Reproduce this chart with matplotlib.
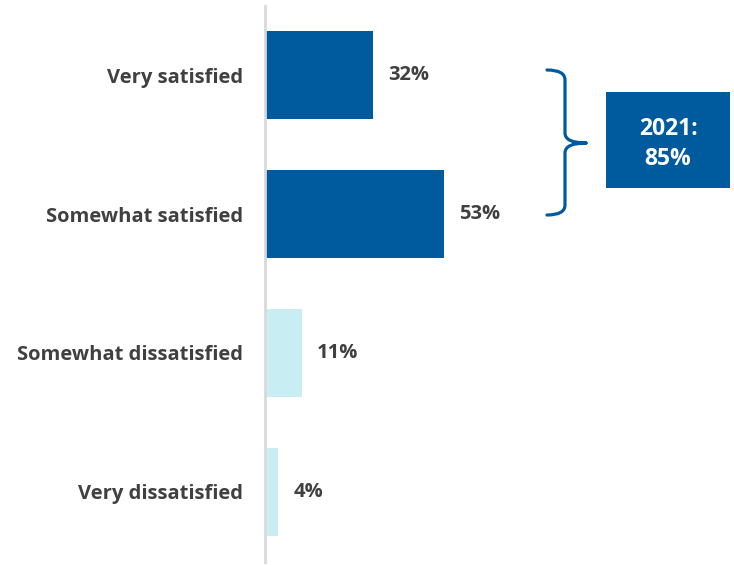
import matplotlib.pyplot as plt
from matplotlib.path import Path
from matplotlib.patches import PathPatch, Rectangle

categories = ["Very satisfied", "Somewhat satisfied", "Somewhat dissatisfied", "Very dissatisfied"]
values = [32, 53, 11, 4]
bar_colors = ["#005A9E", "#005A9E", "#C8EEF3", "#C8EEF3"]
summary_label = "2021:\n85%"

DARK = "#005A9E"
TEXT = "#404040"
W, H = 734, 565

plt.rcParams['font.family'] = ['Open Sans', 'DejaVu Sans']

fig = plt.figure(figsize=(W / 100, H / 100), dpi=100)


def fx(x):
    return x / W


def fy(y):
    return 1 - y / H


# axes area: vertical axis line at x=265, from y=5.5 to 561.5 px
ax = fig.add_axes([fx(265), fy(561.5), fx(W - 265), (561.5 - 5.5) / H])
ypos = list(range(len(categories)))
ax.barh(ypos, values, height=0.63, color=bar_colors)
ax.set_xlim(0, (W - 265) / 3.37)
ax.set_ylim(3.5, -0.5)

for y, v in zip(ypos, values):
    ax.annotate(f"{v}%", (v, y), xytext=(15, 0), textcoords='offset pixels',
                ha='left', va='center', fontsize=14.5, fontweight='bold', color=TEXT)

ax.set_yticks(ypos)
ax.set_yticklabels(categories, fontsize=14.5, fontweight='bold', color=TEXT)
ax.tick_params(axis='y', length=0, pad=16)
ax.set_xticks([])
for s in ['top', 'right', 'bottom']:
    ax.spines[s].set_visible(False)
ax.spines['left'].set_color('#D9D9D9')
ax.spines['left'].set_linewidth(2)

# curly brace grouping the two "satisfied" bars
pts = [(547, 70), (565, 70), (565, 80), (565, 133), (565, 143), (586, 143),
       (586, 143), (565, 143), (565, 153), (565, 205), (565, 215), (547, 215)]
codes = [Path.MOVETO, Path.CURVE3, Path.CURVE3, Path.LINETO, Path.CURVE3, Path.CURVE3,
         Path.MOVETO, Path.CURVE3, Path.CURVE3, Path.LINETO, Path.CURVE3, Path.CURVE3]
brace = Path([(fx(x), fy(y)) for x, y in pts], codes)
fig.patches.append(PathPatch(brace, transform=fig.transFigure, fill=False,
                             edgecolor=DARK, linewidth=2.3, capstyle='round'))

# summary box
fig.patches.append(Rectangle((fx(606), fy(188)), fx(730 - 606), (188 - 92) / H,
                             transform=fig.transFigure, facecolor=DARK, edgecolor='none'))
fig.text(fx(668), fy(144), summary_label, ha='center', va='center', fontsize=16.5,
         fontweight='bold', color='white', linespacing=1.3)

fig.savefig("out.png", dpi=100)
